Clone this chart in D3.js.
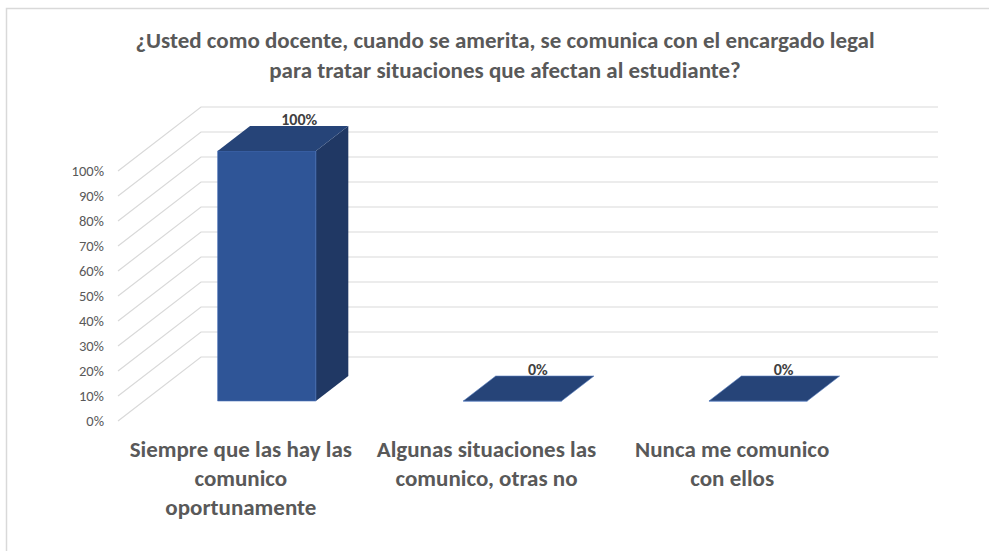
<!DOCTYPE html>
<html lang="es">
<head>
<meta charset="utf-8" />
<title>Encargado legal</title>
<script src="https://cdn.jsdelivr.net/npm/d3@7"></script>
<style>
  body { margin: 0; background: #fff; }
  svg { display: block; font-family: Calibri, Carlito, Lato, sans-serif; }
</style>
</head>
<body>
<div id="chart"></div>
<script>
// data
var titleLines = [
  "¿Usted como docente, cuando se amerita, se comunica con el encargado legal",
  "para tratar situaciones que afectan al estudiante?"
];
var categories = [
  "Siempre que las hay las\ncomunico\noportunamente",
  "Algunas situaciones las\ncomunico, otras no",
  "Nunca me comunico\ncon ellos"
];
var values = [1, 0, 0];
var tickValues = [0, 0.1, 0.2, 0.3, 0.4, 0.5, 0.6, 0.7, 0.8, 0.9, 1];

var width = 989, height = 551;

var svg = d3.select("#chart").append("svg")
  .attr("width", width)
  .attr("height", height);

// chart frame (only top & left visible in the picture)
svg.append("path")
  .attr("d", "M6.5," + height + "V8.5H" + width)
  .attr("fill", "none")
  .attr("stroke", "#d9d9d9")
  .attr("stroke-width", 1.5);

// title
svg.append("g").selectAll("text")
  .data(titleLines)
  .join("text")
  .attr("x", 505)
  .attr("y", function(d, i) { return 48 + i * 30; })
  .attr("text-anchor", "middle")
  .attr("font-size", 23)
  .attr("font-weight", "bold")
  .attr("fill", "#595959")
  .text(function(d) { return d; });

// scales: front floor edge + depth direction
var x = d3.scaleBand().domain(categories).range([118, 855]);
var y = d3.scaleLinear().domain([0, 1]).range([421, 171]);
var depthX = d3.scaleLinear().domain([0, 1]).range([0, 83]);
var depthY = d3.scaleLinear().domain([0, 1]).range([0, -64]);

function proj(px, v, d) {
  return [px + depthX(d), y(v) + depthY(d)];
}

// walls: side diagonals + back horizontal gridlines
var grid = svg.append("g")
  .attr("fill", "none")
  .attr("stroke", "#d9d9d9")
  .attr("stroke-width", 1.2);

grid.selectAll("path")
  .data(tickValues)
  .join("path")
  .attr("d", function(t) {
    var a = proj(118, t, 0), b = proj(118, t, 1), c = proj(855, t, 1);
    return d3.line()([a, b, c]);
  });

// tick labels
svg.append("g").selectAll("text")
  .data(tickValues)
  .join("text")
  .attr("x", 104)
  .attr("y", function(t) { return y(t); })
  .attr("dy", "0.35em")
  .attr("text-anchor", "end")
  .attr("font-size", 14.5)
  .attr("fill", "#595959")
  .text(d3.format(".0%"));

// bars
var front = 0.3125, back = 0.703;
var bw = x.bandwidth() * 0.4;

var bars = svg.append("g").selectAll("g")
  .data(categories.map(function(c, i) { return { cat: c, v: values[i] }; }))
  .join("g");

function face(pts) { return d3.line()(pts) + "Z"; }

bars.append("path")   // side
  .attr("fill", "#203864")
  .attr("d", function(d) {
    var x1 = x(d.cat) + (x.bandwidth() - bw) / 2 + bw;
    return face([proj(x1, 0, front), proj(x1, d.v, front), proj(x1, d.v, back), proj(x1, 0, back)]);
  });

bars.append("path")   // front
  .attr("fill", "#2f5597")
  .attr("stroke", "#4a72b8")
  .attr("stroke-width", 0.6)
  .attr("d", function(d) {
    var x0 = x(d.cat) + (x.bandwidth() - bw) / 2, x1 = x0 + bw;
    return face([proj(x0, 0, front), proj(x1, 0, front), proj(x1, d.v, front), proj(x0, d.v, front)]);
  });

bars.append("path")   // top
  .attr("fill", "#264478")
  .attr("stroke", function(d) { return d.v === 0 ? "#5a7fc0" : "none"; })
  .attr("stroke-width", 0.6)
  .attr("d", function(d) {
    var x0 = x(d.cat) + (x.bandwidth() - bw) / 2, x1 = x0 + bw;
    return face([proj(x0, d.v, front), proj(x1, d.v, front), proj(x1, d.v, back), proj(x0, d.v, back)]);
  });

// data labels
bars.append("text")
  .attr("x", function(d) {
    var x0 = x(d.cat) + (x.bandwidth() - bw) / 2;
    return proj(x0 + bw / 2, d.v, back)[0] - (d.v === 0 ? 7 : 0);
  })
  .attr("y", function(d) { return proj(0, d.v, back)[1] - 7; })
  .attr("dy", "0.35em")
  .attr("text-anchor", "middle")
  .attr("font-size", 16)
  .attr("font-weight", "bold")
  .attr("fill", "#404040")
  .text(function(d) { return d3.format(".0%")(d.v); });

// category labels
svg.append("g").selectAll("text")
  .data(categories)
  .join("text")
  .attr("text-anchor", "middle")
  .attr("font-size", 23)
  .attr("font-weight", "bold")
  .attr("fill", "#595959")
  .each(function(c) {
    var t = d3.select(this);
    c.split("\n").forEach(function(line, i) {
      t.append("tspan")
        .attr("x", x(c) + x.bandwidth() / 2)
        .attr("y", 457 + i * 29)
        .text(line);
    });
  });
</script>
</body>
</html>
